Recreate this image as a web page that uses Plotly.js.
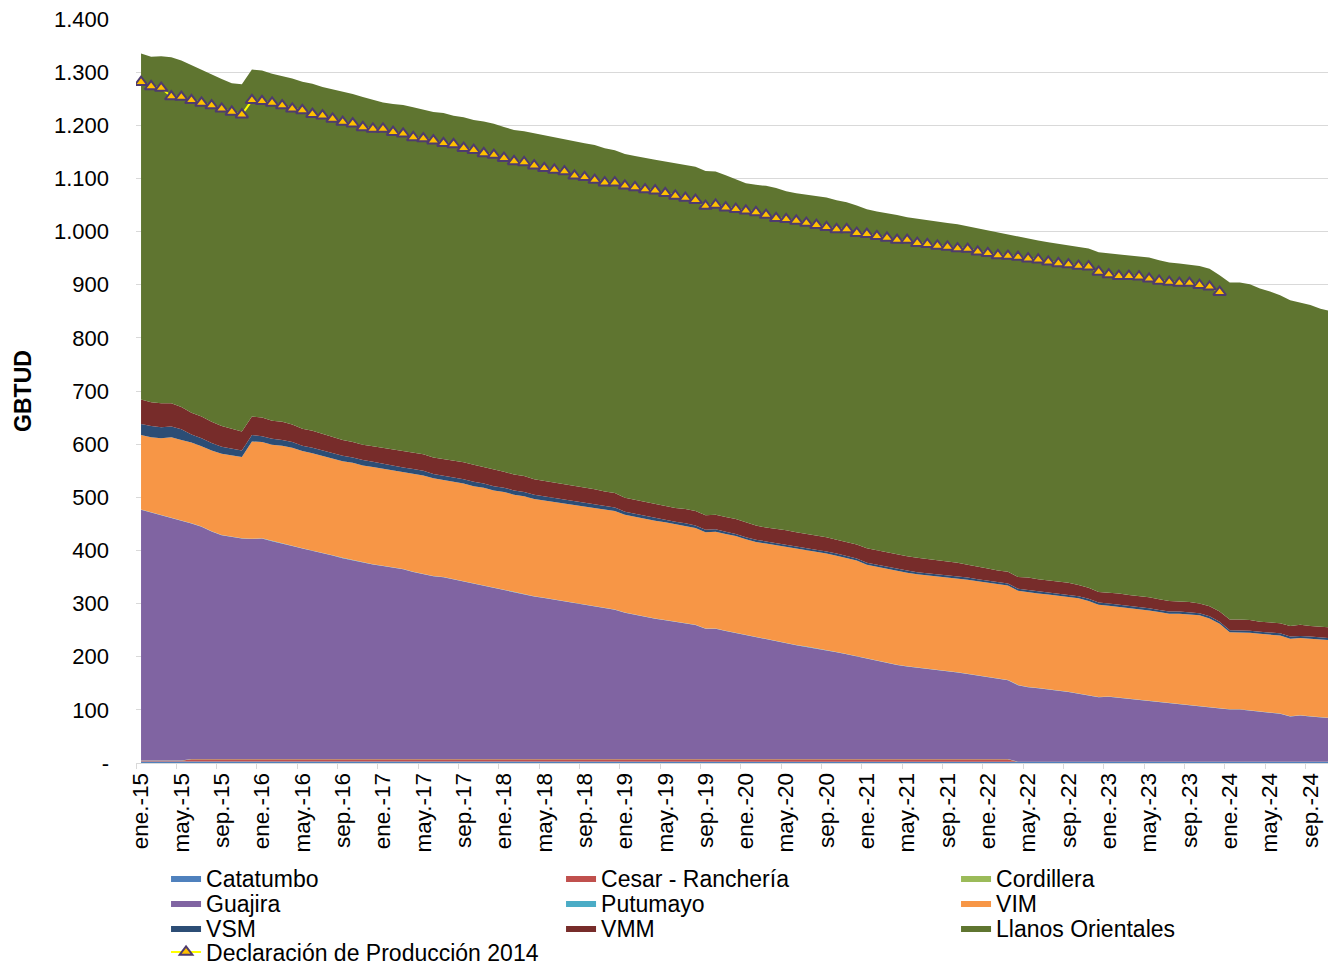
<!DOCTYPE html>
<html>
<head>
<meta charset="utf-8">
<script src="https://cdn.plot.ly/plotly-3.0.1.min.js"></script>
<style>html,body{margin:0;padding:0;background:#fff;}#chart{width:1328px;height:965px;}</style>
</head>
<body>
<div id="chart"></div>
<script>
// ---- categories (monthly, ene.-15 .. dic.-24) ----
const monthNames = ['ene.','feb.','mar.','abr.','may.','jun.','jul.','ago.','sep.','oct.','nov.','dic.'];
const years = ['15','16','17','18','19','20','21','22','23','24'];
const months = [];
years.forEach(y => monthNames.forEach(m => months.push(m + '-' + y)));

// ---- series values (GBTUD) ----
const catatumbo = [
  3,3,3,3,3,2,2,2,2,2,2,2,
  2,2,2,2,2,2,2,2,2,2,2,2,
  2,2,2,2,2,2,2,2,2,2,2,2,
  2,2,2,2,2,2,2,2,2,2,2,2,
  2,2,2,2,2,2,2,2,2,2,2,2,
  2,2,2,2,2,2,2,2,2,2,2,2,
  2,2,2,2,2,2,2,2,2,2,2,2,
  2,2,2,2,2,2,2,2,2,2,2,2,
  2,2,2,2,2,2,2,2,2,2,2,2,
  2,2,2,2,2,2,2,2,2,2,2,2];
const cesar = [
  1,1,1,1,1,5,5,5,5,5,5,5,
  5,5,5,5,5,5,5,5,5,5,5,5,
  5,5,5,5,5,5,5,5,5,5,5,5,
  5,5,5,5,5,5,5,5,5,5,5,5,
  5,5,5,5,5,5,5,5,5,5,5,5,
  5,5,5,5,5,5,5,5,5,5,5,5,
  5,5,5,5,5,5,5,5,5,5,5,5,
  5,5,5,0,0,0,0,0,0,0,0,0,
  0,0,0,0,0,0,0,0,0,0,0,0,
  0,0,0,0,0,0,0,0,0,0,0,0];
const cordillera = [
  0.5,0.5,0.5,0.5,0.5,0.5,0.5,0.5,0.5,0.5,0.5,0.5,
  0.5,0.5,0.5,0.5,0.5,0.5,0.5,0.5,0.5,0.5,0.5,0.5,
  0.5,0.5,0.5,0.5,0.5,0.5,0.5,0.5,0.5,0.5,0.5,0.5,
  0.5,0.5,0.5,0.5,0.5,0.5,0.5,0.5,0.5,0.5,0.5,0.5,
  0.5,0.5,0.5,0.5,0.5,0.5,0.5,0.5,0.5,0.5,0.5,0.5,
  0.5,0.5,0.5,0.5,0.5,0.5,0.5,0.5,0.5,0.5,0.5,0.5,
  0.5,0.5,0.5,0.5,0.5,0.5,0.5,0.5,0.5,0.5,0.5,0.5,
  0.5,0.5,0.5,0.5,0.5,0.5,0.5,0.5,0.5,0.5,0.5,0.5,
  0.5,0.5,0.5,0.5,0.5,0.5,0.5,0.5,0.5,0.5,0.5,0.5,
  0.5,0.5,0.5,0.5,0.5,0.5,0.5,0.5,0.5,0.5,0.5,0.5];
const guajira = [
  472,467,461,456,451,443,437,428,421,418,415,414,
  415,410,406,401,396,392,387,383,378,374,369,366,
  363,360,357,352,348,344,342,338,334,329,326,321,
  318,313,310,306,303,300,297,294,291,288,285,281,
  275,271,267,264,261,258,255,252,245,245,241,237,
  233,229,225,222,218,214,211,208,205,201,197,193,
  188,184,181,177,174,172,170,168,166,163,160,157,
  154,151,148,144,140,138,136,134,131,128,125,121,
  122,120,118,116,114,111,109,107,106,104,102,99,
  98,98,96,94,92,90,85,87,85,83,82,81];
const putumayo = [
  0.5,0.5,0.5,0.5,0.5,0.5,0.5,0.5,0.5,0.5,0.5,0.5,
  0.5,0.5,0.5,0.5,0.5,0.5,0.5,0.5,0.5,0.5,0.5,0.5,
  0.5,0.5,0.5,0.5,0.5,0.5,0.5,0.5,0.5,0.5,0.5,0.5,
  0.5,0.5,0.5,0.5,0.5,0.5,0.5,0.5,0.5,0.5,0.5,0.5,
  0.5,0.5,0.5,0.5,0.5,0.5,0.5,0.5,0.5,0.5,0.5,0.5,
  0.5,0.5,0.5,0.5,0.5,0.5,0.5,0.5,0.5,0.5,0.5,0.5,
  0.5,0.5,0.5,0.5,0.5,0.5,0.5,0.5,0.5,0.5,0.5,0.5,
  0.5,0.5,0.5,0.5,0.5,0.5,0.5,0.5,0.5,0.5,0.5,0.5,
  0.5,0.5,0.5,0.5,0.5,0.5,0.5,0.5,0.5,0.5,0.5,0.5,
  0.5,0.5,0.5,0.5,0.5,0.5,0.5,0.5,0.5,0.5,0.5,0.5];
const vim = [
  140,141,145,152,152,152,151,152,153,153,153,183,
  181,181,183,184,183,183,183,183,182,183,183,183,
  183,182,182,184,185,184,183,183,184,184,184,184,
  184,184,184,183,183,183,183,183,183,183,183,185,
  184,184,184,184,184,183,183,182,181,182,182,182,
  180,179,180,180,181,181,181,181,181,181,181,180,
  177,177,177,177,176,175,175,175,176,177,177,177,
  177,177,178,177,178,178,178,178,179,179,177,174,
  171,171,170,170,170,170,169,171,171,171,167,160,
  145,145,146,146,146,147,146,145,146,146,146,146];
const vsm = [
  21,21,21,20,20,15,15,14,13,12,12,12,
  11,11,11,11,10,10,10,10,10,10,10,10,
  9,9,9,9,9,8,8,8,8,8,8,8,
  8,8,8,8,8,8,8,8,8,8,8,7,
  6,6,6,6,5,5,5,5,5,5,4,4,
  4,4,4,4,4,4,4,4,4,4,4,4,
  4,4,4,4,4,4,4,4,4,4,4,4,
  4,4,4,4,4,4,4,4,4,4,4,4,
  4,4,4,4,4,4,4,4,4,4,4,4,
  4,4,4,4,4,4,4,4,4,4,4,4];
const vmm = [
  46,45,45,44,42,41,41,40,39,38,36,35,
  35,34,34,33,32,32,31,30,30,29,29,29,
  30,30,30,30,31,31,31,31,32,32,31,31,
  30,30,30,29,29,28,28,28,28,28,27,27,
  26,26,26,26,26,26,27,27,27,27,28,28,
  28,27,26,27,27,27,27,27,27,26,25,26,
  27,27,27,27,27,27,27,27,26,25,24,24,
  23,22,22,22,24,23,23,22,22,21,21,20,
  21,21,21,21,21,20,20,19,19,18,19,19,
  20,20,20,19,19,19,20,21,20,20,20,20];
const llanos = [
  651,650,653,651,652,654,653,654,653,650,653,653,
  653,653,651,651,653,653,653,654,655,655,654,652,
  650,651,652,651,649,650,651,650,649,649,650,651,
  649,648,649,651,650,650,650,649,648,648,646,645,
  647,647,647,647,648,649,648,648,648,646,643,639,
  638,641,643,641,638,638,638,638,639,639,640,638,
  638,638,638,638,638,638,637,636,636,637,637,636,
  637,637,634,640,637,637,636,636,636,637,638,639,
  638,638,639,639,639,638,637,636,635,635,635,633,
  634,634,632,627,623,617,613,606,604,599,595,592];
const declaracion2014 = [
  1281,1273,1270,1254,1253,1247,1242,1237,1231,1225,1220,1247,
  1245,1242,1237,1231,1228,1221,1218,1212,1206,1203,1196,1193,
  1193,1187,1184,1177,1175,1171,1166,1164,1157,1153,1147,1144,
  1138,1132,1130,1124,1119,1116,1113,1105,1102,1097,1092,1092,
  1086,1083,1079,1077,1072,1067,1063,1059,1048,1050,1045,1042,
  1039,1036,1031,1025,1023,1020,1016,1012,1008,1004,1004,997,
  995,991,988,984,984,978,976,973,971,968,967,962,
  959,955,954,952,949,947,943,940,938,935,934,924,
  919,916,916,915,911,907,905,903,903,899,896,886];

// ---- y tick labels ----
const yTickVals = [0,100,200,300,400,500,600,700,800,900,1000,1100,1200,1300,1400];
const yTickText = ['-','100','200','300','400','500','600','700','800','900','1.000','1.100','1.200','1.300','1.400'];

function area(name, y, color, legend) {
  return {
    type: 'scatter', mode: 'lines', name: name, x: months, y: y,
    stackgroup: 'one', fillcolor: color, line: {width: 0, color: color},
    legend: legend, hoverinfo: 'x+y+name'
  };
}

const traces = [
  area('Catatumbo', catatumbo, '#4F81BD', 'legend'),
  area('Cesar - Ranchería', cesar, '#C0504D', 'legend'),
  area('Cordillera', cordillera, '#9BBB59', 'legend'),
  area('Guajira', guajira, '#8064A2', 'legend2'),
  area('Putumayo', putumayo, '#4BACC6', 'legend2'),
  area('VIM', vim, '#F79646', 'legend2'),
  area('VSM', vsm, '#2C4D75', 'legend3'),
  area('VMM', vmm, '#772C2A', 'legend3'),
  area('Llanos Orientales', llanos, '#5F7530', 'legend3'),
  {
    type: 'scatter', mode: 'lines+markers', name: 'Declaración de Producción 2014',
    x: months.slice(0, declaracion2014.length), y: declaracion2014,
    line: {color: '#FFFF00', width: 2},
    marker: {symbol: 'triangle-up', size: 11, color: '#FFC000', line: {color: '#4E3B6E', width: 2}},
    legend: 'legend4'
  }
];

function leg(topPx, ew) {
  const o = {
    orientation: 'h', xref: 'paper', x: 0.0252, xanchor: 'left',
    yref: 'paper', y: (763 - topPx) / 744, yanchor: 'top',
    traceorder: 'normal', font: {size: 23, color: '#000'},
    bgcolor: 'rgba(0,0,0,0)', itemwidth: 30
  };
  if (ew) o.entrywidth = ew;
  return o;
}

const layout = {
  width: 1328, height: 965,
  margin: {l: 136, r: 0, t: 19, b: 202, autoexpand: false},
  paper_bgcolor: '#ffffff', plot_bgcolor: '#ffffff',
  font: {family: '"Liberation Sans", Arial, sans-serif', color: '#000'},
  showlegend: true,
  xaxis: {
    type: 'category', range: [-0.5, 117.75], tickmode: 'linear', tick0: 0, dtick: 4,
    tickson: 'boundaries', ticks: 'outside', ticklen: 5, tickcolor: '#D9D9D9',
    tickangle: -90, tickfont: {size: 22.5, color: '#000'},
    showgrid: false, showline: true, linecolor: '#D9D9D9', linewidth: 1, zeroline: false
  },
  yaxis: {
    range: [0, 1400], tickmode: 'array', tickvals: yTickVals, ticktext: yTickText,
    showgrid: true, gridcolor: '#D9D9D9', gridwidth: 1, ticks: '', ticklabelstandoff: 26,
    tickfont: {size: 22, color: '#000'}, zeroline: false, showline: false,
    title: {text: '<b>GBTUD</b>', font: {size: 23, color: '#000'}, standoff: 15}
  },
  legend: leg(856.5, 350),
  legend2: leg(881.5, 350),
  legend3: leg(906.5, 350),
  legend4: leg(930.5, 0)
};

Plotly.newPlot('chart', traces, layout, {displayModeBar: false, staticPlot: true});
</script>
</body>
</html>
